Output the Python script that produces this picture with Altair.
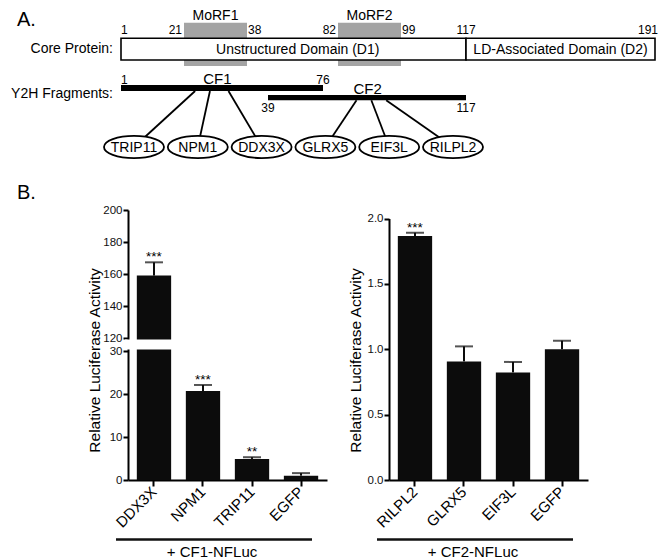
import altair as alt
import numpy as np
import pandas as pd

FONT = "Liberation Sans"

# ---------------- Panel A data (schematic) ----------------
DOMAIN_NAMES = ["Unstructured Domain (D1)", "LD-Associated Domain (D2)"]
DOMAIN_START = [1, 117]
DOMAIN_END = [117, 191]
MORF_NAMES = ["MoRF1", "MoRF2"]
MORF_START = [21, 82]
MORF_END = [38, 99]
CORE_RESIDUE_TICKS = [1, 21, 38, 82, 99, 117, 191]
FRAG_NAMES = ["CF1", "CF2"]
FRAG_START = [1, 39]
FRAG_END = [76, 117]
FRAG_LABEL_AT = [30, 90]
PARTNERS = ["TRIP11", "NPM1", "DDX3X", "GLRX5", "EIF3L", "RILPL2"]
PARTNER_FRAG = ["CF1", "CF1", "CF1", "CF2", "CF2", "CF2"]
PARTNER_ATTACH = [24, 28, 33, 87, 91, 95]
ROW_LABELS = ["Core Protein:", "Y2H Fragments:"]
PANEL_LETTERS = ["A.", "B."]

# ---------------- Panel B data ----------------
CF1_TARGETS = ["DDX3X", "NPM1", "TRIP11", "EGFP"]
CF1_MEAN = [159.0, 20.7, 4.9, 1.0]
CF1_SEM = [8.3, 1.4, 0.4, 0.6]
CF1_SIG = ["***", "***", "**", ""]
CF1_TICKS = [0, 10, 20, 30, 120, 140, 160, 180, 200]
CF1_BREAK = [30, 120]
CF2_TARGETS = ["RILPL2", "GLRX5", "EIF3L", "EGFP"]
CF2_MEAN = [1.866, 0.907, 0.823, 1.0]
CF2_SEM = [0.025, 0.115, 0.08, 0.065]
CF2_SIG = ["***", "", "", ""]
CF2_TICKS = [0.0, 0.5, 1.0, 1.5, 2.0]
GROUP_LABELS = ["+ CF1-NFLuc", "+ CF2-NFLuc"]
Y_TITLE = "Relative Luciferase Activity"

# ---------------- layout (pixels) ----------------
PANEL_A_W, PANEL_A_H = 650, 160
# the schematic is not drawn to scale: piecewise residue -> pixel landmarks
RES_LANDMARKS = [1, 21, 38, 39, 76, 82, 99, 117, 191]
RES_PIXELS = [113, 176, 239, 260, 315, 330, 393, 458, 647]
ELL_RANGE = [126, 445]
ELL_Y = 139
ELLIPSE_PATH = "M -1 0 A 1 0.37 0 1 1 1 0 A 1 0.37 0 1 1 -1 0 Z"
FRAG_BAR_Y = {"CF1": (77, 83), "CF2": (87, 92.3)}
TICK_ALIGN = {1: ("left", 0), 21: ("right", -2), 38: ("left", 1), 82: ("right", -2),
              99: ("left", 1), 117: ("center", 0), 191: ("right", 3)}

BAR_W = 199
PLOT_H = 270
# broken left axis: 0-30 on the lower 129 px, 120-200 on the upper 128 px, 13 px gap
LEFT_Y_DOMAIN = [0, 30, 120, 200]
LEFT_Y_RANGE = [PLOT_H, 141, 128, 0]

res_scale = alt.Scale(domain=RES_LANDMARKS, range=RES_PIXELS, zero=False, nice=False)


def rx(field):
    return alt.X(field, type="quantitative", scale=res_scale, axis=None)


# ---------------- Panel A ----------------
morf_df = pd.DataFrame({"name": MORF_NAMES, "start": MORF_START, "end": MORF_END})
dom_df = pd.DataFrame({"name": DOMAIN_NAMES, "start": DOMAIN_START, "end": DOMAIN_END})
tick_df = pd.DataFrame({"res": CORE_RESIDUE_TICKS})
frag_df = pd.DataFrame({"frag": FRAG_NAMES, "start": FRAG_START, "end": FRAG_END,
                        "label_at": FRAG_LABEL_AT})
frag_ends = pd.DataFrame({"frag": FRAG_NAMES * 2, "res": FRAG_START + FRAG_END,
                          "kind": ["start"] * 2 + ["end"] * 2})
part_df = pd.DataFrame({"partner": PARTNERS, "frag": PARTNER_FRAG})

n = len(PARTNERS)
ell_px = np.interp(np.arange(n), [0, n - 1], ELL_RANGE)
conn_df = pd.DataFrame({
    "partner": PARTNERS,
    "x1": np.interp(PARTNER_ATTACH, RES_LANDMARKS, RES_PIXELS),
    "y1": [FRAG_BAR_Y[f][1] for f in PARTNER_FRAG],
    "x2": ell_px,
    "y2": [ELL_Y] * n,
})

layers = []
layers.append(alt.Chart(morf_df).mark_rect(color="#a4a4a4").encode(
    x=rx("start"), x2="end", y=alt.value(14.7), y2=alt.value(58)))
layers.append(alt.Chart(dom_df).mark_rect(fill="white", stroke="black", strokeWidth=1.6).encode(
    x=rx("start"), x2="end", y=alt.value(30.3), y2=alt.value(52)))
layers.append(alt.Chart(dom_df).transform_calculate(mid="(datum.start + datum.end) / 2")
              .mark_text(fontSize=14, baseline="middle", color="black").encode(
    x=rx("mid"), y=alt.value(41.5), text="name:N"))
layers.append(alt.Chart(morf_df).transform_calculate(mid="(datum.start + datum.end) / 2")
              .mark_text(fontSize=14, baseline="top", color="black").encode(
    x=rx("mid"), y=alt.value(0.5), text="name:N"))
groups = {}
for r, (al, dx) in TICK_ALIGN.items():
    groups.setdefault((al, dx), []).append(r)
for (al, dx), vals in groups.items():
    layers.append(alt.Chart(tick_df)
                  .transform_filter(alt.FieldOneOfPredicate(field="res", oneOf=vals))
                  .mark_text(fontSize=12, align=al, dx=dx, baseline="alphabetic", color="black")
                  .encode(x=rx("res"), y=alt.value(25.5), text=alt.Text("res:Q", format="d")))
for f in FRAG_NAMES:
    y1, y2 = FRAG_BAR_Y[f]
    layers.append(alt.Chart(frag_df).transform_filter(alt.datum.frag == f)
                  .mark_rect(color="black").encode(
        x=rx("start"), x2="end", y=alt.value(y1), y2=alt.value(y2)))
layers.append(alt.Chart(frag_df).transform_filter(alt.datum.frag == "CF1")
              .mark_text(fontSize=15, baseline="alphabetic", color="black").encode(
    x=rx("label_at"), y=alt.value(76), text="frag:N"))
layers.append(alt.Chart(frag_df).transform_filter(alt.datum.frag == "CF2")
              .mark_text(fontSize=15, baseline="alphabetic", color="black").encode(
    x=rx("label_at"), y=alt.value(86.3), text="frag:N"))
layers.append(alt.Chart(frag_ends)
              .transform_filter((alt.datum.frag == "CF1") & (alt.datum.kind == "start"))
              .mark_text(fontSize=12, align="left", baseline="alphabetic", color="black").encode(
    x=rx("res"), y=alt.value(76), text=alt.Text("res:Q", format="d")))
layers.append(alt.Chart(frag_ends)
              .transform_filter((alt.datum.frag == "CF1") & (alt.datum.kind == "end"))
              .mark_text(fontSize=12, align="center", baseline="alphabetic", color="black").encode(
    x=rx("res"), y=alt.value(76), text=alt.Text("res:Q", format="d")))
layers.append(alt.Chart(frag_ends)
              .transform_filter(alt.datum.frag == "CF2")
              .mark_text(fontSize=12, align="center", baseline="alphabetic", color="black").encode(
    x=rx("res"), y=alt.value(104), text=alt.Text("res:Q", format="d")))
layers.append(alt.Chart(conn_df).mark_rule(color="black", strokeWidth=1.8).encode(
    x=alt.X("x1:Q", scale=None, axis=None), x2="x2:Q",
    y=alt.Y("y1:Q", scale=None, axis=None), y2="y2:Q"))
ell_scale = alt.Scale(type="point", domain=PARTNERS, range=ELL_RANGE, padding=0)
layers.append(alt.Chart(part_df).mark_point(
    shape=ELLIPSE_PATH, size=3600, filled=True, fill="white", stroke="black",
    strokeWidth=1.8, opacity=1, fillOpacity=1).encode(
    x=alt.X("partner:N", scale=ell_scale, axis=None), y=alt.value(ELL_Y)))
layers.append(alt.Chart(part_df).mark_text(fontSize=14, baseline="middle", color="black").encode(
    x=alt.X("partner:N", scale=ell_scale, axis=None), y=alt.value(ELL_Y + 0.5), text="partner:N"))
rows_df = pd.DataFrame({"t": ROW_LABELS})
layers.append(alt.Chart(rows_df).transform_filter(alt.datum.t == ROW_LABELS[0])
              .mark_text(fontSize=14, align="right", baseline="middle", color="black").encode(
    x=alt.value(105), y=alt.value(41), text="t:N"))
layers.append(alt.Chart(rows_df).transform_filter(alt.datum.t == ROW_LABELS[1])
              .mark_text(fontSize=14, align="right", baseline="middle", color="black").encode(
    x=alt.value(105), y=alt.value(86), text="t:N"))
letters_df = pd.DataFrame({"t": PANEL_LETTERS})
layers.append(alt.Chart(letters_df).transform_filter(alt.datum.t == "A.")
              .mark_text(fontSize=20, align="left", baseline="top", color="black").encode(
    x=alt.value(9), y=alt.value(2), text="t:N"))

panelA = alt.layer(*layers).resolve_scale(x="independent", y="independent").properties(
    width=PANEL_A_W, height=PANEL_A_H)


# ---------------- Panel B ----------------
def y_axis(values, fmt):
    return alt.Axis(values=values, format=fmt, domainColor="black", domainWidth=2,
                    tickColor="black", tickWidth=2, tickSize=5, labelFontSize=11.5,
                    labelPadding=1, labelColor="#111", grid=False, labelFlush=False,
                    labelOverlap=False, title=Y_TITLE, titleFontSize=15.5,
                    titleFontWeight="normal", titleX=-34, titleY=150, titleAngle=270,
                    titleAlign="center", titleBaseline="middle", titleColor="black")


x_axis = alt.Axis(title=None, labelAngle=315, labelAlign="right", labelBaseline="middle",
                  labelFontSize=15, labelPadding=3, domainColor="black", domainWidth=2,
                  tickColor="black", tickWidth=2, tickSize=6, labelColor="black",
                  labelOverlap=False, labelFlush=False)


def bar_chart(df, targets, yscale, yaxis, group_label, break_df=None):
    base = alt.Chart(df).transform_calculate(hi="datum.mean + datum.sem")
    xe = alt.X("target:N", scale=alt.Scale(domain=targets, paddingInner=0.3, paddingOuter=0.18),
               sort=targets, axis=x_axis, title=None)

    def ye(field):
        return alt.Y(field, type="quantitative", scale=yscale, axis=yaxis, title=Y_TITLE)

    parts = [base.mark_bar(color="#0c0c0c").encode(x=xe, y=ye("mean"))]
    if break_df is not None:
        parts.append(alt.Chart(break_df).mark_rect(color="white", yOffset=-1.5, y2Offset=1.5)
                     .encode(x=alt.value(-3), x2=alt.value(BAR_W + 2), y=ye("lo"), y2="hi:Q"))
    parts += [
        base.mark_rule(color="#0c0c0c", strokeWidth=2).encode(x=xe, y=ye("mean"), y2="hi:Q"),
        base.mark_tick(color="#0c0c0c", size=18, thickness=2).encode(x=xe, y=ye("hi")),
        base.transform_filter("datum.sig != ''").mark_text(
            fontSize=13.5, baseline="middle", dy=-5, color="black").encode(
            x=xe, y=ye("hi"), text="sig:N"),
    ]
    g = pd.DataFrame({"label": [group_label]})
    parts += [
        alt.Chart(g).mark_rule(color="#111", strokeWidth=2.6).encode(
            x=alt.value(-12), x2=alt.value(184), y=alt.value(329.5)),
        alt.Chart(g).mark_text(fontSize=15, baseline="middle", color="black").encode(
            x=alt.value(84), y=alt.value(342), text="label:N"),
    ]
    return alt.layer(*parts).properties(width=BAR_W, height=PLOT_H)


cf1_df = pd.DataFrame({"target": CF1_TARGETS, "mean": CF1_MEAN, "sem": CF1_SEM, "sig": CF1_SIG})
cf2_df = pd.DataFrame({"target": CF2_TARGETS, "mean": CF2_MEAN, "sem": CF2_SEM, "sig": CF2_SIG})
break_df = pd.DataFrame({"lo": [CF1_BREAK[0]], "hi": [CF1_BREAK[1]]})

left = bar_chart(cf1_df, CF1_TARGETS,
                 alt.Scale(domain=LEFT_Y_DOMAIN, range=LEFT_Y_RANGE, nice=False, zero=False),
                 y_axis(CF1_TICKS, "d"), GROUP_LABELS[0], break_df)
right = bar_chart(cf2_df, CF2_TARGETS,
                  alt.Scale(domain=[0, 2], range=[PLOT_H, 8.5], nice=False),
                  y_axis(CF2_TICKS, ".1f"), GROUP_LABELS[1])

spacer = alt.Chart(letters_df).transform_filter(alt.datum.t == "B.").mark_text(
    fontSize=20, align="left", baseline="top", color="black").encode(
    x=alt.value(9), y=alt.value(-27.5), text="t:N").properties(width=58, height=PLOT_H)

row_b = alt.hconcat(spacer, left, right, spacing=62, bounds="flush").resolve_scale(
    x="independent", y="independent")

chart = alt.vconcat(panelA, row_b, spacing=42, bounds="flush", padding=0).resolve_scale(
    x="independent", y="independent").configure(font=FONT).configure_view(stroke=None)

chart.save("out.html", embed_options={"renderer": "svg", "actions": False})
